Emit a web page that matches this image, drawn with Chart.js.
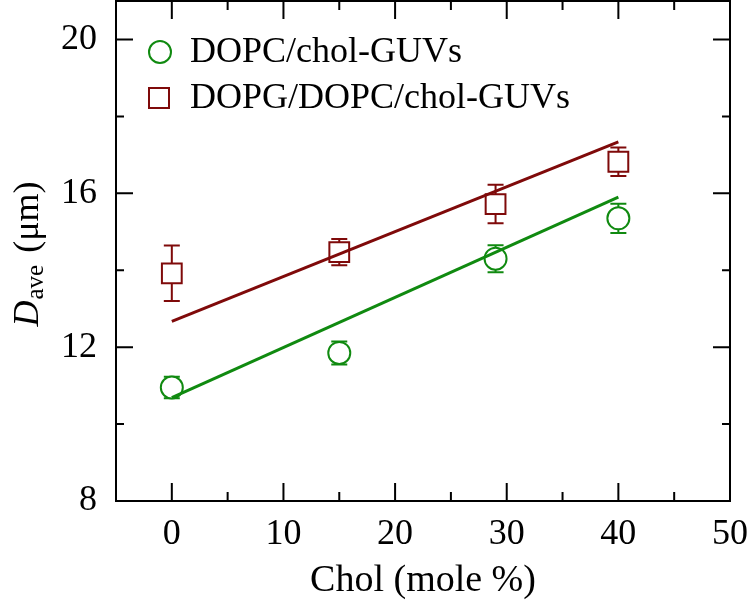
<!DOCTYPE html>
<html><head><meta charset="utf-8">
<script src="https://cdn.jsdelivr.net/npm/chart.js@4.4.0/dist/chart.umd.min.js"></script>
<style>html,body{margin:0;padding:0;background:#fff;} canvas{display:block;}</style>
</head><body>
<canvas id="c" width="750" height="608"></canvas>
<script>
// ---- data ----
const cholPercent = [0, 15, 29, 40];
const dopcMean = [10.95, 11.85, 14.3, 15.35];
const dopcErr = [0.28, 0.3, 0.35, 0.38];
const dopgMean = [13.92, 14.47, 15.72, 16.82];
const dopgErr = [0.72, 0.34, 0.5, 0.37];
const fitX = [0, 40];
const dopcFit = [10.69, 15.9];
const dopgFit = [12.67, 17.34];
const xTicks = [0, 10, 20, 30, 40, 50];
const xMinorTicks = [5, 15, 25, 35, 45];
const yTicks = [8, 12, 16, 20];
const yMinorTicks = [10, 14, 18];
const seriesLabels = ['DOPC/chol-GUVs', 'DOPG/DOPC/chol-GUVs'];
const xTitle = 'Chol (mole %)';

const green = '#108a10', maroon = '#7f0a0a';
const SERIF = "'Liberation Serif', 'Times New Roman', serif";

const errorBars = {
  id: 'errorBars',
  beforeDatasetsDraw(chart) {
    const ctx = chart.ctx, xs = chart.scales.x, ys = chart.scales.y;
    chart.data.datasets.forEach(ds => {
      if (!ds.errors) return;
      ctx.save();
      ctx.strokeStyle = ds.borderColor; ctx.lineWidth = 2;
      ds.data.forEach((p, i) => {
        const x = xs.getPixelForValue(p.x);
        const yt = ys.getPixelForValue(p.y + ds.errors[i]);
        const yb = ys.getPixelForValue(p.y - ds.errors[i]);
        ctx.beginPath();
        ctx.moveTo(x, yt); ctx.lineTo(x, yb);
        ctx.moveTo(x - 8, yt); ctx.lineTo(x + 8, yt);
        ctx.moveTo(x - 8, yb); ctx.lineTo(x + 8, yb);
        ctx.stroke();
      });
      ctx.restore();
    });
  }
};

const frame = {
  id: 'frame',
  afterDraw(chart) {
    const ctx = chart.ctx, a = chart.chartArea, xs = chart.scales.x, ys = chart.scales.y;
    ctx.save();
    ctx.strokeStyle = '#000'; ctx.lineWidth = 2;
    ctx.strokeRect(a.left, a.top, a.right - a.left, a.bottom - a.top);
    ctx.beginPath();
    const xt = (vals, len) => vals.forEach(v => {
      const x = xs.getPixelForValue(v);
      ctx.moveTo(x, a.bottom); ctx.lineTo(x, a.bottom - len);
      ctx.moveTo(x, a.top); ctx.lineTo(x, a.top + len);
    });
    const yt = (vals, len) => vals.forEach(v => {
      const y = ys.getPixelForValue(v);
      ctx.moveTo(a.left, y); ctx.lineTo(a.left + len, y);
      ctx.moveTo(a.right, y); ctx.lineTo(a.right - len, y);
    });
    xt(xTicks, 18); xt(xMinorTicks, 9);
    yt(yTicks, 17); yt(yMinorTicks, 8);
    ctx.stroke();
    ctx.restore();
  }
};

const customLegend = {
  id: 'customLegend',
  afterDraw(chart) {
    const ctx = chart.ctx;
    const items = [
      {label: seriesLabels[0], color: green, style: 'circle', x: 160, y: 52},
      {label: seriesLabels[1], color: maroon, style: 'rect', x: 159, y: 98}
    ];
    ctx.save();
    items.forEach(it => {
      ctx.strokeStyle = it.color; ctx.lineWidth = 2; ctx.fillStyle = '#fff';
      ctx.beginPath();
      if (it.style === 'circle') ctx.arc(it.x, it.y, 11, 0, Math.PI * 2);
      else ctx.rect(it.x - 10, it.y - 10, 20, 20);
      ctx.fill(); ctx.stroke();
      ctx.fillStyle = '#000';
      ctx.font = '36px ' + SERIF;
      ctx.textBaseline = 'middle'; ctx.textAlign = 'left';
      ctx.fillText(it.label, 190, it.y + 1);
    });
    ctx.restore();
  }
};

const yTitle = {
  id: 'yTitle',
  afterDraw(chart) {
    const ctx = chart.ctx;
    ctx.save();
    ctx.translate(38, 254);
    ctx.rotate(-Math.PI / 2);
    ctx.fillStyle = '#000';
    ctx.textBaseline = 'alphabetic';
    const fMain = '36px ' + SERIF, fIt = 'italic 36px ' + SERIF, fSub = '25px ' + SERIF;
    ctx.font = fIt; const wD = ctx.measureText('D').width;
    ctx.font = fSub; const wS = ctx.measureText('ave').width;
    ctx.font = fMain; const wR = ctx.measureText(' (\u03bcm)').width;
    let x = -(wD + wS + wR + 4) / 2;
    ctx.font = fIt; ctx.fillText('D', x, 0); x += wD + 1;
    ctx.font = fSub; ctx.fillText('ave', x, 5); x += wS + 3;
    ctx.font = fMain; ctx.fillText(' (\u03bcm)', x, 0);
    ctx.restore();
  }
};

const pts = (xs, ys) => xs.map((x, i) => ({x, y: ys[i]}));
const tickFont = {family: SERIF, size: 36};

new Chart(document.getElementById('c'), {
  type: 'scatter',
  data: {
    datasets: [
      {label: seriesLabels[0], data: pts(cholPercent, dopcMean), errors: dopcErr,
       pointStyle: 'circle', pointRadius: 11, pointBorderWidth: 2,
       borderColor: green, backgroundColor: '#fff', pointBackgroundColor: '#fff', order: 2},
      {label: seriesLabels[1], data: pts(cholPercent, dopgMean), errors: dopgErr,
       pointStyle: 'rect', pointRadius: 14, pointBorderWidth: 2,
       borderColor: maroon, backgroundColor: '#fff', pointBackgroundColor: '#fff', order: 2},
      {label: 'fit1', data: pts(fitX, dopcFit), showLine: true, pointRadius: 0,
       borderColor: green, borderWidth: 3, order: 0},
      {label: 'fit2', data: pts(fitX, dopgFit), showLine: true, pointRadius: 0,
       borderColor: maroon, borderWidth: 3, order: 0}
    ]
  },
  options: {
    responsive: false, animation: false,
    layout: {autoPadding: false, padding: {top: 1, right: 20, left: 0, bottom: 0}},
    plugins: {legend: {display: false}, tooltip: {enabled: false}},
    scales: {
      x: {
        type: 'linear', min: -5, max: 50,
        afterBuildTicks: s => { s.ticks = xTicks.map(v => ({value: v})); },
        afterFit: s => { s.height = 107; s.paddingLeft = 0; s.paddingRight = 0; },
        ticks: {font: tickFont, color: '#000', padding: 12, maxRotation: 0, autoSkip: false},
        grid: {display: false, drawTicks: false}, border: {display: false},
        title: {display: true, text: xTitle, color: '#000', font: {family: SERIF, size: 38}, padding: {top: 0, bottom: 4}}
      },
      y: {
        type: 'linear', min: 8, max: 21,
        afterBuildTicks: s => { s.ticks = yTicks.map(v => ({value: v})); },
        afterFit: s => { s.width = 116; s.paddingTop = 0; s.paddingBottom = 0; },
        ticks: {font: tickFont, color: '#000', padding: 19, autoSkip: false},
        grid: {display: false, drawTicks: false}, border: {display: false}
      }
    }
  },
  plugins: [errorBars, frame, customLegend, yTitle]
});
</script>
</body></html>
